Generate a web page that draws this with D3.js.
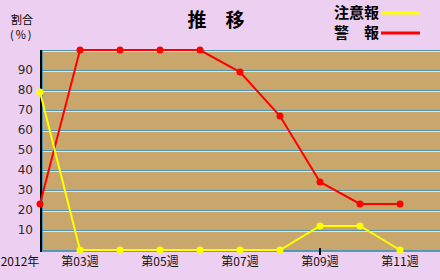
<!DOCTYPE html>
<html>
<head>
<meta charset="utf-8">
<script src="https://cdn.jsdelivr.net/npm/d3@7"></script>
<style>
  body { margin: 0; background: #edcff2; }
  svg { display: block; }
</style>
</head>
<body>
<svg id="chart" width="440" height="280"></svg>
<script>
// x positions: 0 = 2012 week 2 ... 10 = week 12
const weekIndex = [0, 1, 2, 3, 4, 5, 6, 7, 8, 9];
const tickIndex = [0, 1, 3, 5, 7, 9];
const tickLabels = ['2012年', '第03週', '第05週', '第07週', '第09週', '第11週'];
const yTicks = [10, 20, 30, 40, 50, 60, 70, 80, 90];

const keihou = [23, 100, 100, 100, 100, 89, 67, 34, 23, 23];   // 警報 (red)
const chuihou = [79, 0, 0, 0, 0, 0, 0, 12, 12, 0];               // 注意報 (yellow)

const JP = '"Noto Sans CJK JP", "DejaVu Sans", sans-serif';
const NUM = '"DejaVu Sans", sans-serif';

const svg = d3.select('#chart');

const x = d3.scaleLinear().domain([0, 10]).range([40, 440]);
const y = d3.scaleLinear().domain([0, 100]).range([250, 50]);

// plot background
svg.append('rect')
    .attr('x', x(0)).attr('y', y(100))
    .attr('width', x(10) - x(0)).attr('height', y(0) - y(100))
    .attr('fill', '#c9a76c');

// gridlines: blue line with a light line underneath
const gridVals = yTicks.concat([100]);
svg.append('g').selectAll('line.light')
    .data(gridVals)
    .join('line')
    .attr('x1', x(0)).attr('x2', x(10))
    .attr('y1', d => y(d) + 1.5).attr('y2', d => y(d) + 1.5)
    .attr('stroke', '#eee3c4').attr('stroke-width', 1);
svg.append('g').selectAll('line.blue')
    .data(gridVals)
    .join('line')
    .attr('x1', x(0)).attr('x2', x(10))
    .attr('y1', d => y(d) + 0.5).attr('y2', d => y(d) + 0.5)
    .attr('stroke', '#4f94b0').attr('stroke-width', 1);

// bottom edge
svg.append('line')
    .attr('x1', x(0)).attr('x2', x(10))
    .attr('y1', y(0) + 0.5).attr('y2', y(0) + 0.5)
    .attr('stroke', '#4f94b0');
svg.append('line')
    .attr('x1', x(0)).attr('x2', x(10))
    .attr('y1', y(0) + 1.5).attr('y2', y(0) + 1.5)
    .attr('stroke', '#8d8aa0');

// left edge
svg.append('line')
    .attr('x1', x(0) + 2.5).attr('x2', x(0) + 2.5)
    .attr('y1', y(100)).attr('y2', y(0))
    .attr('stroke', '#4f94b0');
svg.append('line')
    .attr('x1', x(0) + 1).attr('x2', x(0) + 1)
    .attr('y1', y(100)).attr('y2', y(0) + 2)
    .attr('stroke', '#000').attr('stroke-width', 2);

// y tick labels
svg.append('g').selectAll('text')
    .data(yTicks)
    .join('text')
    .attr('x', 33).attr('y', d => y(d))
    .attr('dy', '0.35em')
    .attr('text-anchor', 'end')
    .attr('font-family', NUM).attr('font-size', 12)
    .attr('fill', '#2a2a2a')
    .text(d => d);

// x tick labels
svg.append('g').selectAll('text')
    .data(tickIndex)
    .join('text')
    .attr('x', (d, i) => i === 0 ? 20 : x(d))
    .attr('y', 266)
    .attr('text-anchor', 'middle')
    .attr('font-family', JP).attr('font-size', 12)
    .attr('fill', '#111')
    .text((d, i) => tickLabels[i]);

// small tick mark at 第09週
svg.append('line')
    .attr('x1', x(7)).attr('x2', x(7))
    .attr('y1', y(0) - 2).attr('y2', y(0) + 5)
    .attr('stroke', '#000').attr('stroke-width', 2);

// series
const line = d3.line().x((d, i) => x(weekIndex[i])).y(d => y(d));

function drawSeries(values, color) {
    svg.append('path')
        .datum(values)
        .attr('d', line)
        .attr('fill', 'none')
        .attr('stroke', color).attr('stroke-width', 2);
    svg.append('g').selectAll('circle')
        .data(values)
        .join('circle')
        .attr('cx', (d, i) => x(weekIndex[i]))
        .attr('cy', d => y(d))
        .attr('r', 3.5)
        .attr('fill', color);
}
drawSeries(keihou, '#ff0000');
drawSeries(chuihou, '#ffff00');

// title
svg.append('text')
    .attr('x', 216).attr('y', 27)
    .attr('text-anchor', 'middle')
    .attr('font-family', JP).attr('font-size', 19).attr('font-weight', 'bold')
    .text('推　移');

// unit label
svg.append('text')
    .attr('x', 11).attr('y', 24)
    .attr('font-family', JP).attr('font-size', 11)
    .text('割合');
svg.append('text')
    .attr('x', 10).attr('y', 39)
    .attr('font-family', JP).attr('font-size', 11)
    .attr('letter-spacing', 1.5)
    .text('(％)');

// legend
const legend = [
    { label: '注意報', color: '#ffff00', y: 13 },
    { label: '警　報', color: '#ff0000', y: 33 }
];
const lg = svg.append('g').selectAll('g')
    .data(legend)
    .join('g');
lg.append('text')
    .attr('x', 379).attr('y', d => d.y)
    .attr('dy', '0.35em')
    .attr('text-anchor', 'end')
    .attr('font-family', JP).attr('font-size', 15).attr('font-weight', 'bold')
    .text(d => d.label);
lg.append('line')
    .attr('x1', 381).attr('x2', 420)
    .attr('y1', d => d.y).attr('y2', d => d.y)
    .attr('stroke', d => d.color).attr('stroke-width', 3);
</script>
</body>
</html>
